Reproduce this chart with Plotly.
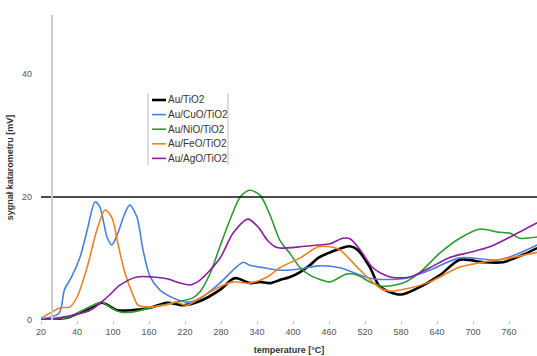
import numpy as np
import plotly.graph_objects as go

# tick labels (category-like temperature axis)
tick_labels = [20, 40, 100, 160, 220, 280, 340, 400, 460, 520, 580, 640, 700, 760]

names = ["Au/TiO2", "Au/CuO/TiO2", "Au/NiO/TiO2", "Au/FeO/TiO2", "Au/AgO/TiO2"]
colors = ["#000000", "#4a7fe0", "#2e9a2e", "#f08020", "#8a1f9e"]
widths = [2.6, 1.6, 1.6, 1.6, 1.6]

t_tio2 = [20, 30, 36, 62, 82, 107, 133, 162, 190, 217, 243, 278, 300, 307, 328, 345, 362, 378, 395, 412, 428, 442, 462, 495, 508, 528, 545, 573, 583, 612, 645, 678, 717, 750, 783, 807]
v_tio2 = [0, 0.2, 0.5, 2.0, 2.8, 1.6, 1.6, 2.0, 2.8, 2.4, 3.0, 4.9, 6.7, 6.8, 6.0, 6.2, 6.0, 6.5, 7.0, 7.8, 8.9, 10.1, 11.0, 12.0, 11.4, 8.6, 5.4, 4.2, 4.2, 5.4, 7.3, 9.8, 9.4, 9.4, 10.6, 11.7]

t_cuo = [20, 30, 33, 37, 45, 57, 70, 78, 90, 98, 108, 120, 128, 140, 150, 162, 178, 200, 223, 245, 278, 300, 317, 328, 345, 378, 412, 442, 478, 528, 583, 628, 678, 745, 807]
v_cuo = [0.2, 1.1, 4.9, 7.0, 10.2, 14.6, 19.2, 18.4, 13.5, 12.2, 14.1, 17.4, 18.7, 16.7, 11.4, 7.0, 4.9, 3.6, 2.9, 3.5, 6.0, 8.1, 9.4, 8.9, 8.6, 8.1, 8.3, 8.8, 8.5, 6.8, 6.7, 8.1, 10.1, 9.8, 12.2]

t_nio = [20, 36, 50, 82, 90, 112, 133, 162, 200, 233, 245, 262, 278, 295, 312, 328, 345, 362, 378, 395, 412, 428, 445, 462, 490, 507, 528, 550, 583, 612, 645, 678, 712, 740, 762, 778, 807]
v_nio = [0, 0.5, 1.6, 2.9, 2.4, 1.3, 1.3, 2.0, 2.8, 3.6, 4.6, 7.6, 11.9, 16.3, 20.0, 21.1, 20.3, 17.0, 13.0, 10.8, 8.5, 7.3, 6.6, 6.2, 7.5, 7.3, 6.2, 5.5, 6.0, 7.8, 10.9, 13.3, 14.8, 14.3, 14.1, 13.3, 13.5]

t_feo = [20, 31, 36, 40, 57, 73, 87, 98, 108, 120, 132, 142, 162, 190, 205, 223, 245, 278, 300, 328, 357, 378, 412, 442, 462, 478, 512, 545, 562, 595, 628, 678, 717, 762, 807]
v_feo = [0.3, 2.0, 2.1, 3.7, 8.6, 14.6, 17.9, 16.7, 12.5, 7.6, 4.4, 2.4, 2.1, 2.5, 2.9, 2.4, 3.6, 5.4, 6.2, 6.0, 7.0, 8.5, 10.1, 11.9, 11.9, 11.4, 8.1, 5.2, 4.7, 5.2, 6.2, 8.6, 9.4, 10.1, 11.0]

t_ago = [20, 29, 62, 90, 112, 140, 167, 190, 212, 228, 245, 278, 300, 325, 342, 357, 370, 378, 412, 442, 462, 483, 495, 512, 533, 562, 595, 628, 662, 695, 728, 762, 807]
v_ago = [0, 0.3, 1.6, 3.7, 5.7, 7.0, 7.0, 6.7, 6.0, 5.7, 6.5, 10.0, 14.1, 16.4, 15.1, 13.0, 11.9, 11.7, 11.9, 12.2, 12.4, 13.3, 13.2, 11.4, 8.5, 7.0, 7.0, 8.5, 10.2, 11.0, 11.9, 13.5, 15.8]

temps = [t_tio2, t_cuo, t_nio, t_feo, t_ago]
vals = [v_tio2, v_cuo, v_nio, v_feo, v_ago]

# piecewise-linear axis scale: temperature -> tick position
tick_pos = np.arange(len(tick_labels), dtype=float)
def to_pos(t):
    t = np.asarray(t, dtype=float)
    p = np.interp(t, tick_labels, tick_pos)
    over = t > tick_labels[-1]
    p[over] = tick_pos[-1] + (t[over] - tick_labels[-1]) / 60.0
    return p

W, H = 537, 356
L, R, T, B = 41, 0, 15, 36
pw, ph = W - L - R, H - T - B
xmax = pw / 36.0
ymax = ph / 6.15

fig = go.Figure()
for nm, c, w, t, v in zip(names, colors, widths, temps, vals):
    fig.add_trace(go.Scatter(x=to_pos(t), y=v, mode="lines", name=nm,
                             line=dict(color=c, width=w, shape="spline", smoothing=0.8),
                             showlegend=False))

shapes = []
# horizontal reference line at 20
shapes.append(dict(type="line", xref="paper", yref="y", x0=0, x1=1, y0=20, y1=20,
                   line=dict(color="#111111", width=1.3)))
# light vertical line
xv = (52 - L) / pw
shapes.append(dict(type="line", xref="paper", yref="paper", x0=xv, x1=xv, y0=0, y1=1,
                   line=dict(color="#cccccc", width=2)))

# manual legend
def px2paper(px, py):
    return (px - L) / pw, (H - B - py) / ph

annotations = []
lx0, lx1, tx = 152, 166, 166
for i, (nm, c, w) in enumerate(zip(names, colors, widths)):
    py = 100 + i * 14.6
    a0, b0 = px2paper(lx0, py)
    a1, _ = px2paper(lx1, py)
    shapes.append(dict(type="line", xref="paper", yref="paper", x0=a0, x1=a1, y0=b0, y1=b0,
                       line=dict(color=c, width=w)))
    ax, _ = px2paper(tx, py)
    annotations.append(dict(xref="paper", yref="paper", x=ax, y=b0, text=nm, showarrow=False,
                            xanchor="left", yanchor="middle",
                            font=dict(family="Liberation Sans, Arial", size=10, color="#333333")))
for bx in (148, 228):
    a, y0 = px2paper(bx, 165)
    _, y1 = px2paper(bx, 93)
    shapes.append(dict(type="line", xref="paper", yref="paper", x0=a, x1=a, y0=y0, y1=y1,
                       line=dict(color="#bbbbbb", width=1)))

fig.update_layout(
    width=W, height=H,
    margin=dict(l=L, r=R, t=T, b=B),
    paper_bgcolor="white", plot_bgcolor="white",
    font=dict(family="Liberation Sans, Arial", size=9, color="#555555"),
    shapes=shapes, annotations=annotations,
    xaxis=dict(range=[0, xmax], tickmode="array", tickvals=tick_pos,
               ticktext=[str(v) for v in tick_labels], showgrid=False, zeroline=False,
               showline=False, ticks="outside", ticklen=3, tickcolor="#bbbbbb",
               tickfont=dict(size=9, color="#555555"),
               title=dict(text="<b>temperature [°C]</b>", standoff=10,
                          font=dict(size=9, color="#333333"))),
    yaxis=dict(range=[0, ymax], tickvals=[0, 20, 40], showgrid=False, zeroline=False,
               showline=False, ticks="", ticklabelstandoff=8,
               tickfont=dict(size=9, color="#555555"),
               title=dict(text="<b>sygnał katarometru [mV]</b>", standoff=6,
                          font=dict(size=9, color="#333333"))),
)

fig.write_html("out.html")
